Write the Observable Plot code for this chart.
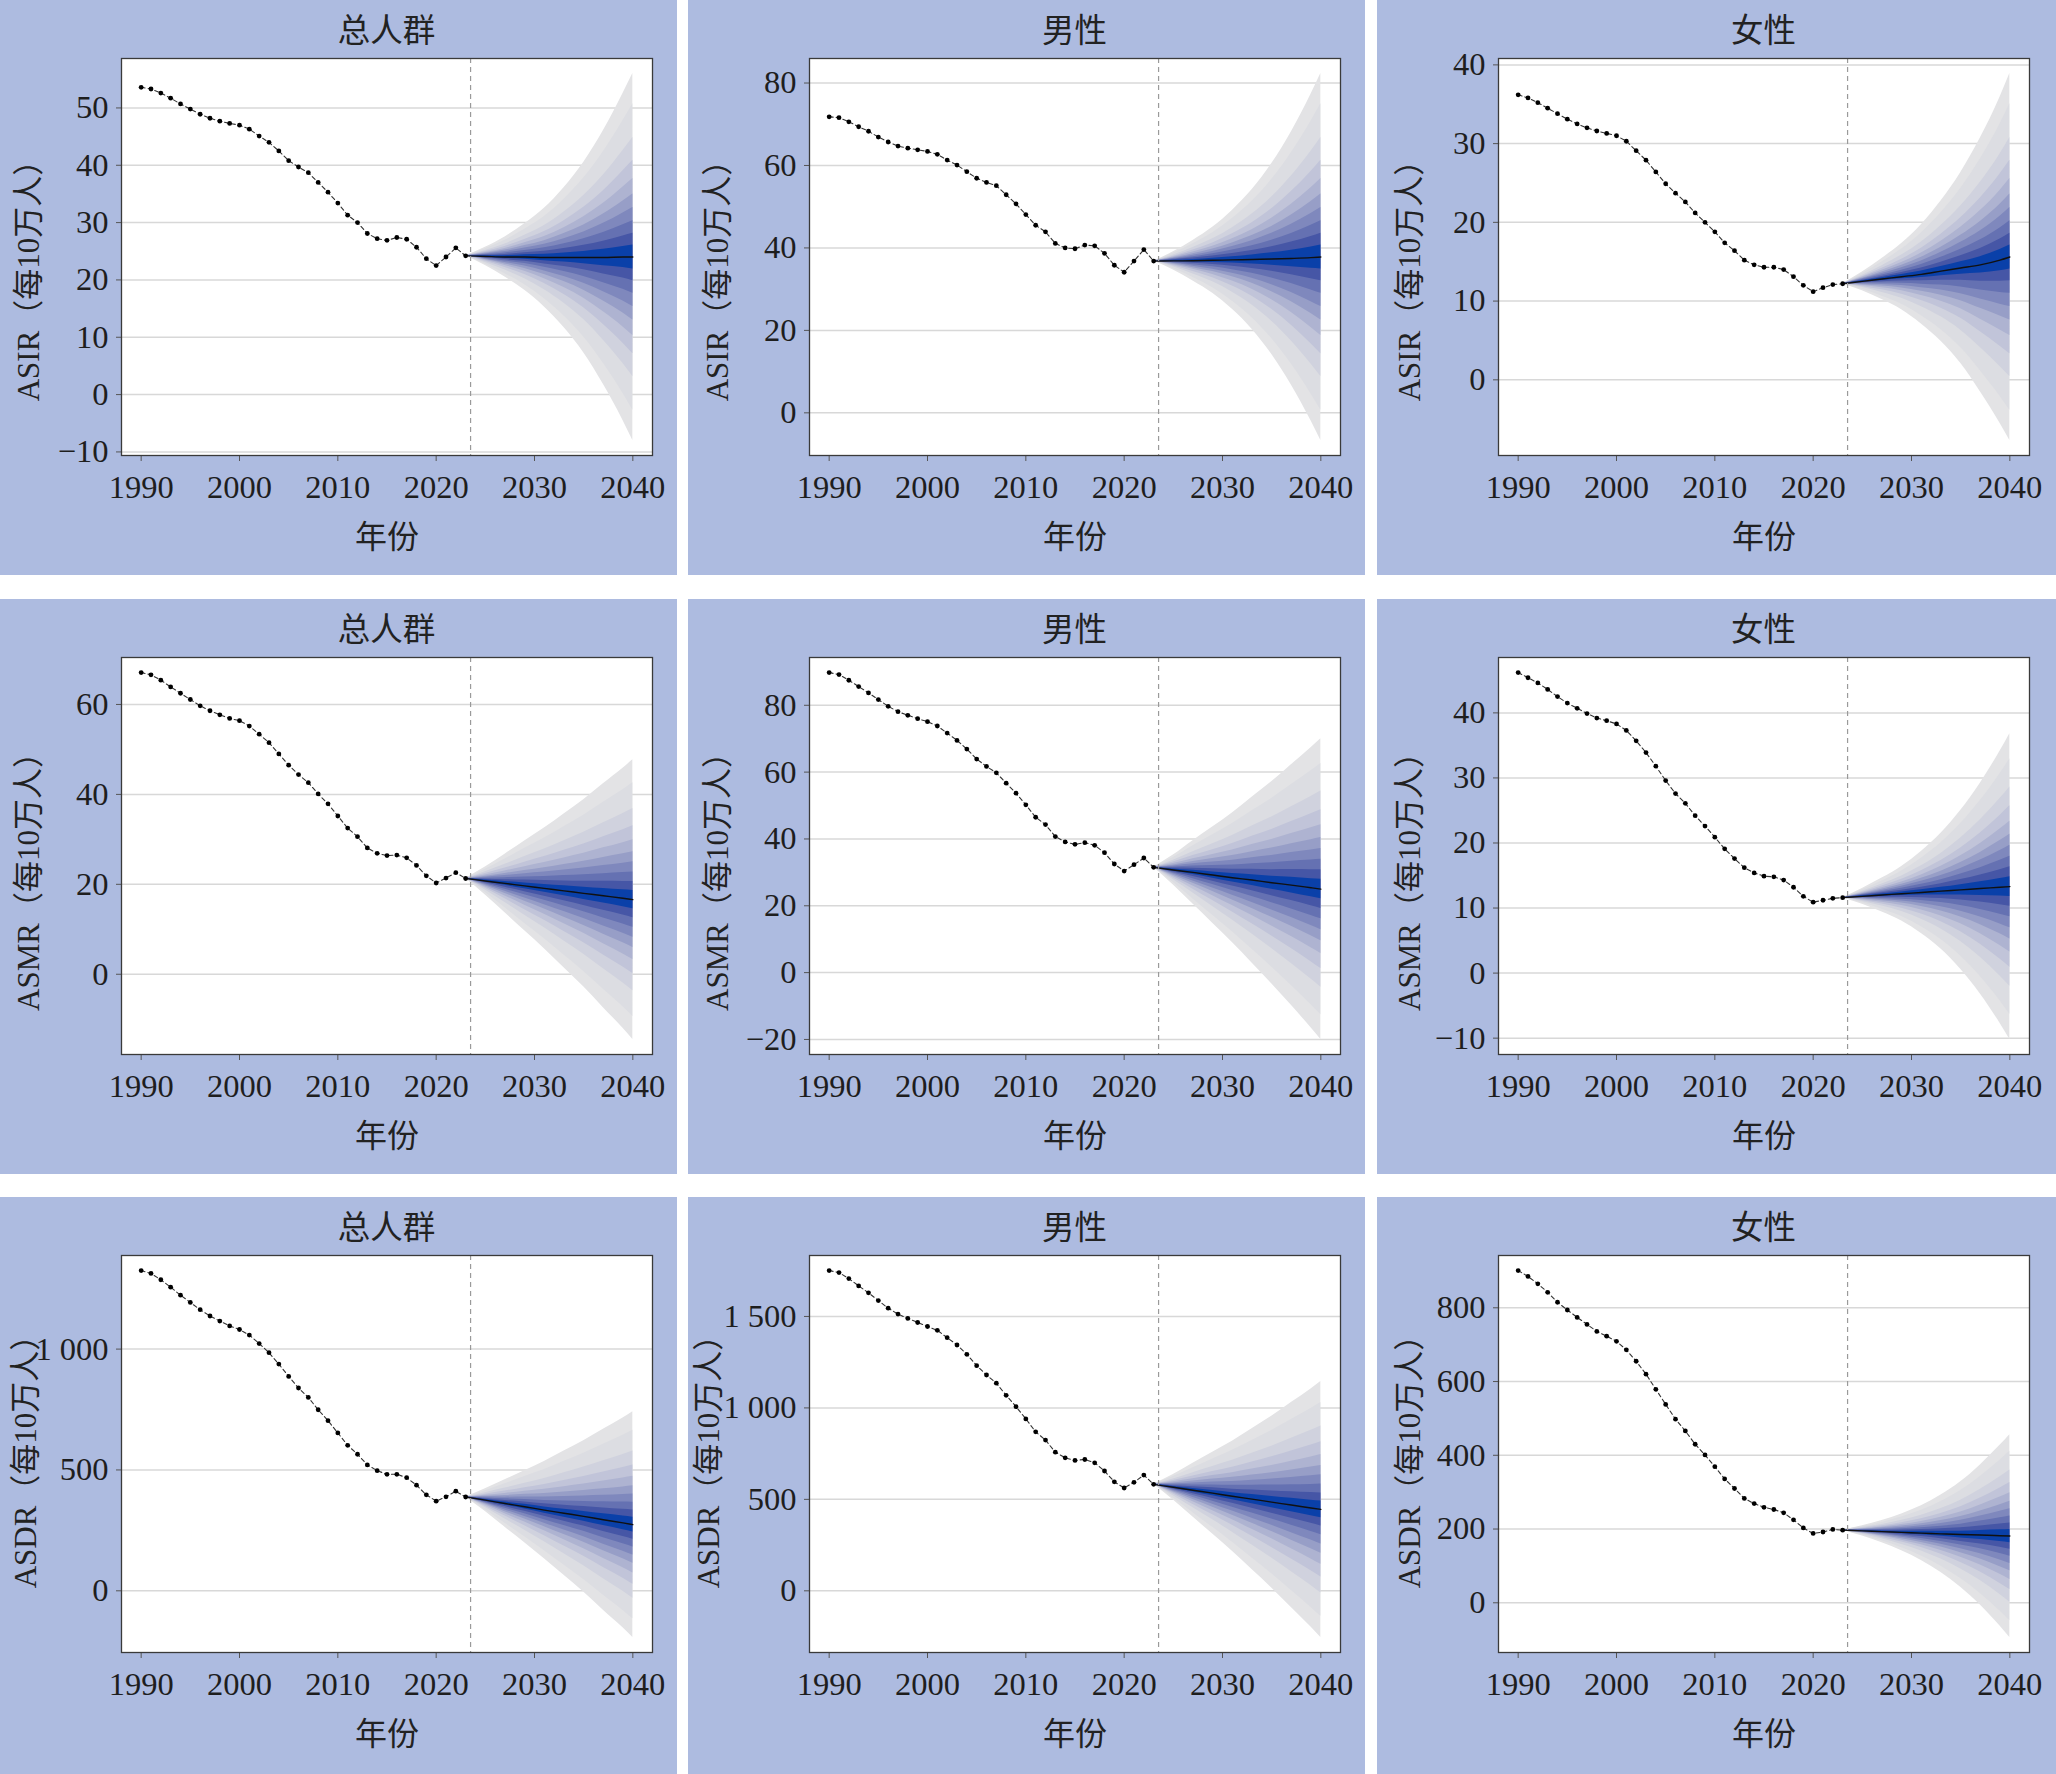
<!DOCTYPE html>
<html><head><meta charset="utf-8">
<script src="https://cdn.jsdelivr.net/npm/d3@7"></script>
<script src="https://cdn.jsdelivr.net/npm/@observablehq/plot@0.6"></script>
<style>
html,body{margin:0;padding:0;background:#fff;}
#root{position:relative;width:2056px;height:1774px;}
.panel{position:absolute;background:#adbbe0;overflow:hidden;}
.ptitle{box-sizing:border-box;height:52px;line-height:63px;text-align:center;font-family:'Liberation Serif','Noto Sans CJK SC',serif;font-size:32.5px;color:#222;padding-left:121px;}
.panel svg{display:block;}
</style></head><body><div id="root"></div>
<script>
// ---------- data ----------
const years = [1990,1991,1992,1993,1994,1995,1996,1997,1998,1999,2000,2001,2002,2003,2004,2005,2006,2007,2008,2009,2010,2011,2012,2013,2014,2015,2016,2017,2018,2019,2020,2021,2022,2023];
const columnTitles = ["总人群","男性","女性"];
const rowLabels = ["ASIR（每10万人）","ASMR（每10万人）","ASDR（每10万人）"];
const xAxisLabel = "年份";
const xTicks = [1990,2000,2010,2020,2030,2040];
const cutYear = 2023.5;

// observed series
const asirTotal  = [53.6,53.3,52.6,51.7,50.7,49.8,48.9,48.2,47.7,47.3,47.0,46.3,45.1,44.0,42.5,40.8,39.7,38.7,37.0,35.3,33.4,31.3,30.0,28.1,27.2,26.9,27.4,27.1,25.7,23.7,22.5,24.0,25.6,24.2];
const asirMale   = [71.8,71.6,70.6,69.4,68.3,66.9,65.7,64.7,64.2,63.8,63.4,62.7,61.3,60.1,58.5,56.9,55.9,55.1,52.9,50.7,48.1,45.5,43.9,41.1,40.0,39.8,40.7,40.5,38.7,35.8,34.1,36.8,39.6,36.8];
const asirFemale = [36.2,35.8,35.2,34.5,33.8,33.1,32.5,32.0,31.6,31.3,31.0,30.3,29.1,27.9,26.4,24.9,23.7,22.6,21.2,20.0,18.8,17.4,16.4,15.2,14.6,14.3,14.3,14.0,13.1,12.0,11.2,11.7,12.1,12.2];
const asmrTotal  = [67.1,66.6,65.4,63.9,62.5,61.1,59.7,58.6,57.7,56.9,56.4,55.2,53.4,51.5,49.0,46.5,44.4,42.6,40.1,37.9,35.2,32.5,30.6,28.1,26.9,26.4,26.5,25.9,24.2,21.9,20.3,21.4,22.6,21.3];
const asmrMale   = [89.8,89.2,87.5,85.6,83.7,81.7,79.7,78.1,77.0,76.0,75.1,73.8,71.7,69.5,66.9,63.9,61.7,59.8,56.7,53.7,50.2,46.5,44.3,40.7,39.1,38.4,38.9,38.1,35.9,32.5,30.4,32.3,34.3,31.5];
const asmrFemale = [46.2,45.4,44.6,43.6,42.5,41.5,40.7,39.9,39.2,38.8,38.3,37.3,35.7,33.9,31.8,29.6,27.6,26.1,24.2,22.6,20.9,19.1,17.6,16.2,15.4,14.9,14.8,14.3,13.2,11.8,10.9,11.2,11.5,11.6];
const asdrTotal  = [1325,1313,1287,1256,1223,1193,1163,1137,1116,1096,1081,1058,1023,985,938,887,839,800,749,704,653,602,565,521,497,482,482,468,437,397,371,389,412,388];
const asdrMale   = [1751,1740,1707,1667,1629,1587,1545,1513,1489,1467,1445,1424,1384,1344,1293,1231,1180,1135,1069,1007,940,869,824,758,727,713,718,700,655,596,562,593,633,582];
const asdrFemale = [901,885,865,842,815,794,774,755,736,723,709,686,655,620,579,538,498,466,430,401,369,336,310,283,269,259,253,244,225,203,188,192,199,197];

// projection (fan) : years, median, half-width of the outer (95%) interval
const fanYears = [2023,2025,2027,2029,2031,2033,2035,2037,2039,2040];
const asirTotalMid   = [24.2,24.1,24.0,24.0,23.9,23.9,23.9,23.9,24.0,24.0];
const asirTotalHalf  = [0,1.6,3.5,5.8,8.6,12.2,16.6,22.1,28.5,32.0];
const asirMaleMid    = [36.8,36.85,36.9,37.0,37.1,37.2,37.3,37.45,37.65,37.8];
const asirMaleHalf   = [0,2.2,4.9,8.0,12.0,16.9,23.1,30.7,39.6,44.5];
const asirFemaleMid  = [12.2,12.5,12.8,13.1,13.4,13.8,14.2,14.6,15.2,15.6];
const asirFemaleHalf = [0,1.2,2.6,4.2,6.3,8.9,12.1,16.1,20.7,23.3];
const asmrTotalMid   = [21.3,20.75,20.2,19.65,19.1,18.55,18.0,17.45,16.9,16.6];
const asmrTotalHalf  = [0,3.1,6.5,10.0,13.4,17.1,20.8,24.9,28.9,31.1];
const asmrMaleMid    = [31.5,30.7,30.0,29.2,28.4,27.7,26.9,26.2,25.4,25.0];
const asmrMaleHalf   = [0,4.5,9.5,14.4,19.4,24.8,30.2,36.0,41.9,45.0];
const asmrFemaleMid  = [11.6,11.8,12.0,12.2,12.4,12.6,12.8,13.0,13.2,13.3];
const asmrFemaleHalf = [0,1.2,2.6,4.2,6.3,8.9,12.2,16.2,20.9,23.5];
const asdrTotalMid   = [388,375,361,348,334,321,308,294,281,274];
const asdrTotalHalf  = [0,47,98,149,201,257,313,374,434,467];
const asdrMaleMid    = [582,566,550,534,517,501,485,469,453,445];
const asdrMaleHalf   = [0,70,147,224,301,385,469,560,651,700];
const asdrFemaleMid  = [197,195,193,191,189,187,185,184,182,181];
const asdrFemaleHalf = [0,14,30,50,74,105,143,190,245,275];

// interval bands, outer (95%) -> inner (10%), as fraction of the outer half-width
const bandFractions = [1,0.835,0.652,0.528,0.428,0.343,0.27,0.198,0.129,0.065];
const bandColors = ["#e3e3e5","#dcdde2","#d0d2de","#c1c4d9","#aeb3d1","#979ec7","#7f88bd","#6571b2","#4656a6","#0a40a9"];

// y tick values
const asirTotalTicks  = [-10,0,10,20,30,40,50];
const asirMaleTicks   = [0,20,40,60,80];
const asirFemaleTicks = [0,10,20,30,40];
const asmrTotalTicks  = [0,20,40,60];
const asmrMaleTicks   = [-20,0,20,40,60,80];
const asmrFemaleTicks = [-10,0,10,20,30,40];
const asdrTotalTicks  = [0,500,1000];
const asdrMaleTicks   = [0,500,1000,1500];
const asdrFemaleTicks = [0,200,400,600,800];

const panels = [
  {row:0,col:0,obs:asirTotal, mid:asirTotalMid, half:asirTotalHalf, ticks:asirTotalTicks},
  {row:0,col:1,obs:asirMale,  mid:asirMaleMid,  half:asirMaleHalf,  ticks:asirMaleTicks},
  {row:0,col:2,obs:asirFemale,mid:asirFemaleMid,half:asirFemaleHalf,ticks:asirFemaleTicks},
  {row:1,col:0,obs:asmrTotal, mid:asmrTotalMid, half:asmrTotalHalf, ticks:asmrTotalTicks},
  {row:1,col:1,obs:asmrMale,  mid:asmrMaleMid,  half:asmrMaleHalf,  ticks:asmrMaleTicks},
  {row:1,col:2,obs:asmrFemale,mid:asmrFemaleMid,half:asmrFemaleHalf,ticks:asmrFemaleTicks},
  {row:2,col:0,obs:asdrTotal, mid:asdrTotalMid, half:asdrTotalHalf, ticks:asdrTotalTicks},
  {row:2,col:1,obs:asdrMale,  mid:asdrMaleMid,  half:asdrMaleHalf,  ticks:asdrMaleTicks},
  {row:2,col:2,obs:asdrFemale,mid:asdrFemaleMid,half:asdrFemaleHalf,ticks:asdrFemaleTicks}
];

// ---------- layout ----------
const colLeft = [0,688,1377], colWidth = [677,677,679];
const rowTop = [0,599,1197], rowHeight = [575,575,577];
const labelX = [[29,30,33],[29,30,33],[26,21,33]];
const labelDy = [16,18,0];
const FONT = "'Liberation Serif','Noto Sans CJK SC',serif";
const fmt = d3.formatLocale({decimal:".",thousands:" ",grouping:[3],currency:["",""],minus:"\u2212"}).format(",d");

const root = document.getElementById("root");
for (const p of panels) {
  const W = colWidth[p.col], H = rowHeight[p.row];
  const div = document.createElement("div");
  div.className = "panel";
  Object.assign(div.style,{left:colLeft[p.col]+"px",top:rowTop[p.row]+"px",width:W+"px",height:H+"px"});
  const t = document.createElement("div");
  t.className = "ptitle";
  t.style.paddingRight = (W-652)+"px";
  t.textContent = columnTitles[p.col];
  div.appendChild(t);

  const obs = years.map((year,i)=>({year,value:p.obs[i]}));
  const bands = bandFractions.map(f=>fanYears.map((year,i)=>({year,lo:p.mid[i]-f*p.half[i],hi:p.mid[i]+f*p.half[i]})));
  const mid = fanYears.map((year,i)=>({year,value:p.mid[i]}));
  const lo = Math.min(d3.min(p.obs), d3.min(bands[0],d=>d.lo));
  const hi = Math.max(d3.max(p.obs), d3.max(bands[0],d=>d.hi));
  const pad = (hi-lo)*0.041;
  const svgH = H-52;
  const fb = 403; // frame bottom inside svg
  const chart = Plot.plot({
    width: W, height: svgH,
    marginLeft:121, marginRight: W-652, marginTop:6, marginBottom: svgH-fb,
    x:{domain:[1988,2042]},
    y:{domain:[lo-pad,hi+pad]},
    style:`font-family:${FONT};font-size:32.5px;background:transparent;color:#1e1e1e;overflow:visible;`,
    marks:[
      Plot.frame({fill:"#fff",stroke:"none"}),
      Plot.gridY(p.ticks,{stroke:"#d8d8d8",strokeOpacity:1,strokeWidth:1.5}),
      ...bands.map((rows,k)=>Plot.areaY(rows,{x:"year",y1:"lo",y2:"hi",fill:bandColors[k],curve:"monotone-x"})),
      Plot.lineY(mid,{x:"year",y:"value",stroke:"#111",strokeWidth:1.4,curve:"monotone-x"}),
      Plot.ruleX([cutYear],{stroke:"#9a9a9a",strokeWidth:1.2,strokeDasharray:"5,4"}),
      Plot.lineY(obs,{x:"year",y:"value",stroke:"#333",strokeWidth:1.1,strokeDasharray:"4,3"}),
      Plot.dot(obs,{x:"year",y:"value",r:2.4,fill:"#000",stroke:"none"}),
      Plot.axisX(xTicks,{tickSize:6,tickPadding:13,tickFormat:d=>String(d),label:null,stroke:"#555"}),
      Plot.axisY(p.ticks,{tickSize:5,tickPadding:8,tickFormat:fmt,label:null,stroke:"#555"}),
      Plot.frame({stroke:"#3a3a3a",strokeWidth:1.3}),
      Plot.text([rowLabels[p.row]],{frameAnchor:"left",textAnchor:"middle",lineAnchor:"middle",dx:labelX[p.row][p.col]-121,dy:labelDy[p.row],rotate:-90,fontSize:31,fill:"#222"}),
      Plot.text([xAxisLabel],{frameAnchor:"bottom",textAnchor:"middle",lineAnchor:"middle",dy:82,fontSize:32,fill:"#222"})
    ]
  });
  div.appendChild(chart);
  root.appendChild(div);
}
</script></body></html>
